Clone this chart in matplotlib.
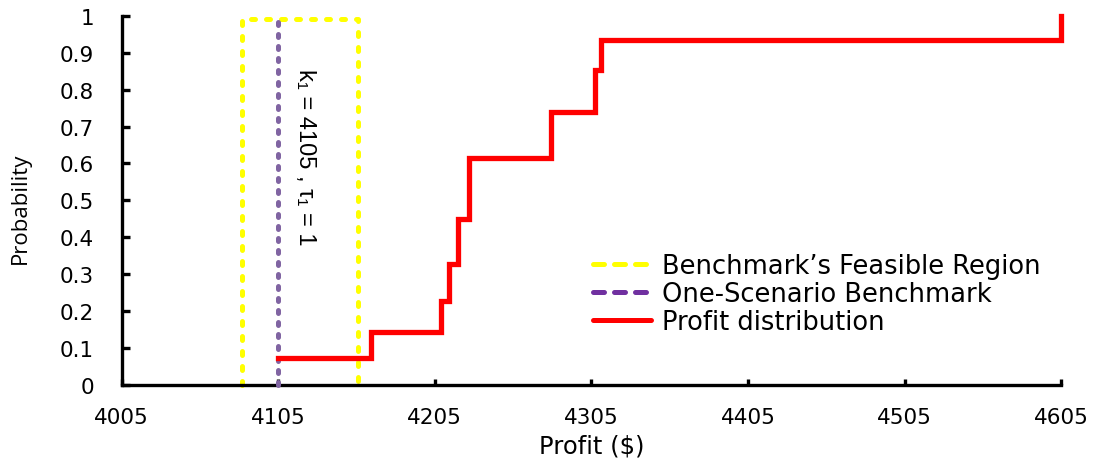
import matplotlib
matplotlib.use('Agg')
import matplotlib.pyplot as plt
from matplotlib.lines import Line2D

plt.rcParams['font.family'] = ['DejaVu Sans']

# Profit distribution (step CDF)
profit = [4105, 4164, 4209, 4214, 4220, 4227, 4279, 4307, 4311, 4605]
prob = [0.073, 0.143, 0.227, 0.328, 0.45, 0.615, 0.739, 0.852, 0.935, 1.0]

# Benchmark's feasible region and one-scenario benchmark
region_x = [4082, 4082, 4156, 4156]
region_y = [0, 0.99, 0.99, 0]
bench_x = [4105, 4105]
bench_y = [0, 0.99]

xticks = [4005, 4105, 4205, 4305, 4405, 4505, 4605]
yticks = [0, 0.1, 0.2, 0.3, 0.4, 0.5, 0.6, 0.7, 0.8, 0.9, 1]
ytick_labels = ['0', '0.1', '0.2', '0.3', '0.4', '0.5', '0.6', '0.7', '0.8', '0.9', '1']

fig = plt.figure(figsize=(10.99, 4.64), dpi=100)
ax = fig.add_axes([0.1107, 0.168, 0.855, 0.796])

ax.plot(region_x, region_y, color='#FFFF00', lw=3.6, dashes=(0.8, 2.2),
        dash_capstyle='round', clip_on=False, zorder=2)
ax.plot(bench_x, bench_y, color='#8064A2', lw=3.6, dashes=(0.6, 1.8),
        dash_capstyle='round', clip_on=False, zorder=3)
ax.step(profit, prob, where='post', color='red', lw=3.8,
        solid_joinstyle='miter', clip_on=False, zorder=4)

# Annotation for the one-scenario benchmark
ax.text(4122, 0.62, 'k\u2081 = 4105 , \u03c4\u2081 = 1', rotation=-90,
        ha='center', va='center', fontsize=17,
        family=['Liberation Sans', 'DejaVu Sans'])

ax.set_xlim(4005, 4605)
ax.set_ylim(0, 1)
ax.set_xticks(xticks)
ax.set_yticks(yticks)
ax.set_yticklabels(ytick_labels)
for s in ['top', 'right']:
    ax.spines[s].set_visible(False)
for s in ['left', 'bottom']:
    ax.spines[s].set_linewidth(2.4)
ax.tick_params(axis='y', direction='in', length=6, width=2.4, pad=20, labelsize=15.5)
ax.tick_params(axis='x', direction='in', length=4, width=2.4, pad=16, labelsize=15.5)

ax.set_xlabel('Profit ($)', fontsize=17.5)
ax.xaxis.set_label_coords(0.5, -0.13)
ax.set_ylabel('Probability', fontsize=16, family=['Open Sans', 'DejaVu Sans'])
ax.yaxis.set_label_coords(-0.0965, 0.48)

handles = [
    Line2D([], [], color='#FFFF00', lw=3.6, dashes=(2.2, 2.0), dash_capstyle='round'),
    Line2D([], [], color='#7030A0', lw=3.6, dashes=(2.2, 2.0), dash_capstyle='round'),
    Line2D([], [], color='red', lw=3.6, solid_capstyle='round'),
]
labels = ["Benchmark\u2019s Feasible Region", 'One-Scenario Benchmark', 'Profit distribution']
ax.legend(handles, labels, loc='center left', bbox_to_anchor=(593 / 1099, 1 - 295 / 464),
          bbox_transform=fig.transFigure, frameon=False, fontsize=18.5,
          handlelength=2.25, handletextpad=0.45, borderpad=0, borderaxespad=0,
          labelspacing=0.06)

plt.savefig('out.png', dpi=100)
plt.close()
